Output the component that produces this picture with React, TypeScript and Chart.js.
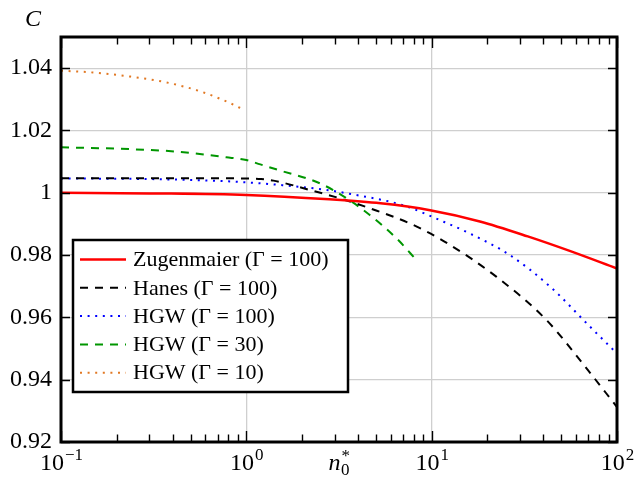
import React, { useEffect, useRef } from 'react';
import { Chart, registerables } from 'chart.js';

Chart.register(...registerables);

const FONT = '"Liberation Serif", "Times New Roman", serif';

// ---- data ----
const zugX = [0.1, 0.3, 1, 2.8, 5.3, 9.8, 18.2, 33, 54.6, 100];
const zugY = [1.0, 0.9998, 0.9993, 0.9979, 0.9966, 0.9944, 0.9908, 0.9860, 0.9815, 0.9757];

const hanesX = [0.1, 0.3, 1, 1.2, 1.4, 2.2, 3.2, 4.65, 7.6, 11.6, 22.4, 41.7, 65.5, 100];
const hanesY = [1.0047, 1.0047, 1.0046, 1.0044, 1.0039, 1.0009, 0.9982, 0.995, 0.9902, 0.9845, 0.973, 0.9591, 0.9451, 0.9312];

const hgw100X = [0.1, 0.3, 0.5, 0.9, 1.52, 2.7, 3.9, 7.0, 11.6, 16.1, 26.4, 43.7, 71, 100];
const hgw100Y = [1.0046, 1.0044, 1.0041, 1.0035, 1.0025, 1.0009, 0.9993, 0.996, 0.9907, 0.9869, 0.98, 0.9698, 0.9572, 0.9484];

const hgw30X = [0.1, 0.236, 0.421, 0.78, 1.0, 1.19, 1.49, 2.5, 3.48, 4.65, 6.48, 8.45];
const hgw30Y = [1.0146, 1.014, 1.0132, 1.0114, 1.0105, 1.0091, 1.0073, 1.003, 0.9982, 0.9928, 0.9853, 0.9778];

const hgw10X = [0.1, 0.149, 0.236, 0.372, 0.582, 0.816, 0.98];
const hgw10Y = [1.0392, 1.0386, 1.0373, 1.0354, 1.0323, 1.0288, 1.0265];

const seriesLabels = [
  'Zugenmaier (Γ = 100)',
  'Hanes (Γ = 100)',
  'HGW (Γ = 100)',
  'HGW (Γ = 30)',
  'HGW (Γ = 10)',
];

const yTicks = [0.92, 0.94, 0.96, 0.98, 1.0, 1.02, 1.04];
const xMajor = [0.1, 1, 10, 100];
const xMinor = [0.2, 0.3, 0.4, 0.5, 0.6, 0.7, 0.8, 0.9, 2, 3, 4, 5, 6, 7, 8, 9, 20, 30, 40, 50, 60, 70, 80, 90];
const nStar = 3.15;
const xExpLabels = [
  { v: 0.1, base: '10', exp: '−1' },
  { v: 1, base: '10', exp: '0' },
  { v: 10, base: '10', exp: '1' },
  { v: 100, base: '10', exp: '2' },
];

const pts = (xs: number[], ys: number[]) => xs.map((x, i) => ({ x, y: ys[i] }));

const decorPlugin = {
  id: 'decor',
  afterDraw(chart: any) {
    const { ctx, chartArea: a, scales } = chart;
    const xs = scales.x;
    const ys = scales.y;
    ctx.save();

    // inner tick marks
    ctx.strokeStyle = '#000';
    ctx.lineWidth = 1.4;
    ctx.setLineDash([]);
    ctx.beginPath();
    for (const v of yTicks) {
      const p = Math.round(ys.getPixelForValue(v)) + 0.5;
      ctx.moveTo(a.left, p);
      ctx.lineTo(a.left + 9, p);
      ctx.moveTo(a.right, p);
      ctx.lineTo(a.right - 9, p);
    }
    for (const v of xMinor) {
      const p = Math.round(xs.getPixelForValue(v)) + 0.5;
      ctx.moveTo(p, a.bottom);
      ctx.lineTo(p, a.bottom - 7.5);
      ctx.moveTo(p, a.top);
      ctx.lineTo(p, a.top + 7.5);
    }
    for (const v of xMajor) {
      const p = Math.round(xs.getPixelForValue(v)) + 0.5;
      ctx.moveTo(p, a.bottom);
      ctx.lineTo(p, a.bottom - 11);
      ctx.moveTo(p, a.top);
      ctx.lineTo(p, a.top + 11);
    }
    ctx.stroke();

    // frame
    ctx.lineWidth = 3;
    ctx.strokeRect(a.left, a.top, a.right - a.left, a.bottom - a.top);

    // x tick labels with superscripts
    ctx.fillStyle = '#000';
    ctx.textBaseline = 'alphabetic';
    ctx.textAlign = 'left';
    const baseY = a.bottom + 28;
    for (const l of xExpLabels) {
      const p = xs.getPixelForValue(l.v);
      ctx.font = '24px ' + FONT;
      const wb = ctx.measureText(l.base).width;
      ctx.font = '17px ' + FONT;
      const we = ctx.measureText(l.exp).width;
      const x0 = p - (wb + we) / 2;
      ctx.font = '24px ' + FONT;
      ctx.fillText(l.base, x0, baseY);
      ctx.font = '17px ' + FONT;
      ctx.fillText(l.exp, x0 + wb + 1, baseY - 10);
    }
    {
      const p = xs.getPixelForValue(nStar);
      ctx.font = 'italic 24px ' + FONT;
      const wn = ctx.measureText('n').width;
      ctx.font = '17px ' + FONT;
      const w0 = ctx.measureText('0').width;
      const x0 = p - (wn + w0) / 2;
      ctx.font = 'italic 24px ' + FONT;
      ctx.fillText('n', x0, baseY);
      ctx.font = '17px ' + FONT;
      ctx.fillText('0', x0 + wn + 0.5, baseY + 5);
      ctx.fillText('*', x0 + wn + 1, baseY - 9);
    }

    // axis title C
    ctx.font = 'italic 24px ' + FONT;
    ctx.fillText('C', 25, 26);

    // legend box
    const lx = a.left + 12;
    const ly = a.top + 203;
    const lw = 275;
    const lh = 152;
    ctx.fillStyle = '#fff';
    ctx.fillRect(lx, ly, lw, lh);
    ctx.lineWidth = 2.5;
    ctx.strokeStyle = '#000';
    ctx.strokeRect(lx, ly, lw, lh);
    const dsets = chart.data.datasets;
    for (let i = 0; i < dsets.length; i++) {
      const ds = dsets[i];
      const ry = ly + 19.5 + i * 28.3;
      ctx.save();
      ctx.strokeStyle = ds.borderColor;
      ctx.lineWidth = ds.borderWidth;
      ctx.setLineDash(ds.borderDash || []);
      ctx.beginPath();
      ctx.moveTo(lx + 7, ry);
      ctx.lineTo(lx + 53, ry);
      ctx.stroke();
      ctx.restore();
      ctx.fillStyle = '#000';
      ctx.font = '22px ' + FONT;
      ctx.textBaseline = 'middle';
      ctx.fillText(seriesLabels[i], lx + 60, ry + 1);
    }
    ctx.restore();
  },
};

export default function App() {
  const ref = useRef<HTMLCanvasElement>(null);
  useEffect(() => {
    if (!ref.current) return;
    const common = { showLine: true, pointRadius: 0, fill: false, cubicInterpolationMode: 'monotone' as const };
    const chart = new Chart(ref.current, {
      type: 'scatter',
      data: {
        datasets: [
          { ...common, label: seriesLabels[0], data: pts(zugX, zugY), borderColor: '#ff0000', borderWidth: 2.5, borderDash: [] },
          { ...common, label: seriesLabels[1], data: pts(hanesX, hanesY), borderColor: '#000000', borderWidth: 2, borderDash: [8, 7] },
          { ...common, label: seriesLabels[2], data: pts(hgw100X, hgw100Y), borderColor: '#0000ff', borderWidth: 2, borderDash: [2, 5.6] },
          { ...common, label: seriesLabels[3], data: pts(hgw30X, hgw30Y), borderColor: 'rgb(0,150,0)', borderWidth: 2, borderDash: [8, 7] },
          { ...common, label: seriesLabels[4], data: pts(hgw10X, hgw10Y), borderColor: 'rgb(225,120,35)', borderWidth: 2, borderDash: [2, 5.6] },
        ],
      },
      options: {
        responsive: false,
        animation: false,
        layout: { padding: { top: 37, right: 17, left: 0, bottom: 0 } },
        plugins: { legend: { display: false }, tooltip: { enabled: false }, title: { display: false } },
        scales: {
          x: {
            type: 'logarithmic',
            min: 0.1,
            max: 100,
            afterBuildTicks: (s: any) => {
              s.ticks = xMajor.map((v) => ({ value: v }));
            },
            afterFit: (s: any) => {
              s.height = 35;
              s.paddingLeft = 0;
              s.paddingRight = 0;
            },
            ticks: { display: false },
            grid: {
              drawTicks: false,
              color: '#cfcfcf',
              lineWidth: 1.3,
            },
            border: { display: false },
          },
          y: {
            type: 'linear',
            min: 0.92,
            max: 1.05,
            afterBuildTicks: (s: any) => {
              s.ticks = yTicks.map((v) => ({ value: v }));
            },
            afterFit: (s: any) => {
              s.width = 61;
              s.paddingTop = 0;
              s.paddingBottom = 0;
            },
            ticks: {
              padding: 9,
              color: '#000',
              font: { family: FONT, size: 24 },
              callback: (v: any) => String(Number(Number(v).toFixed(2))),
            },
            grid: {
              drawTicks: false,
              color: '#cfcfcf',
              lineWidth: 1.3,
            },
            border: { display: false },
          },
        },
      },
      plugins: [decorPlugin],
    });
    return () => chart.destroy();
  }, []);
  return (
    <div style={{ position: 'absolute', left: 0, top: 0, width: 634, height: 477, background: '#fff' }}>
      <canvas ref={ref} width={634} height={477} style={{ display: 'block' }} />
    </div>
  );
}
